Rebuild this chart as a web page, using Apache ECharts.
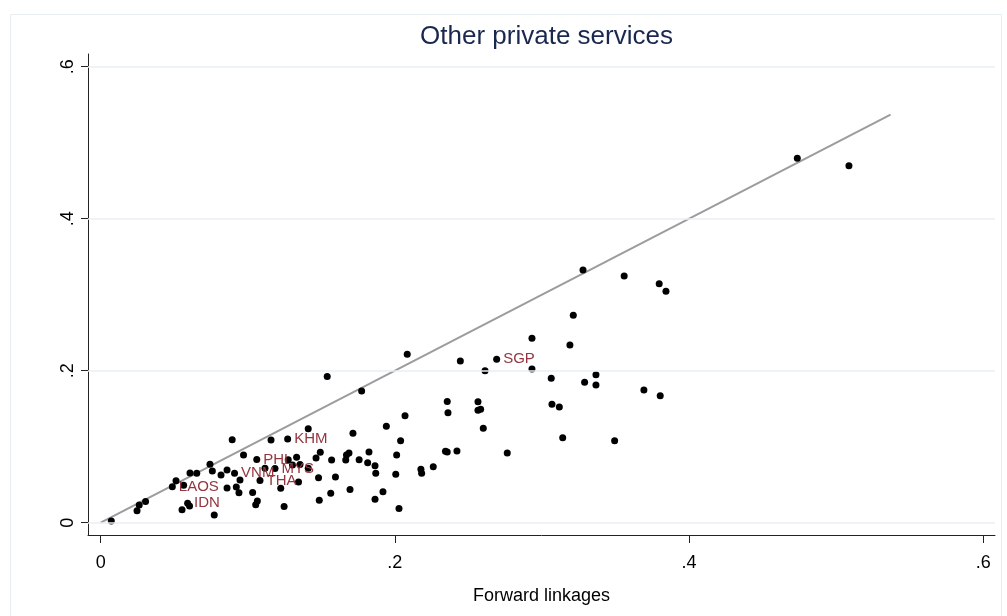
<!DOCTYPE html>
<html>
<head>
<meta charset="utf-8">
<title>Other private services</title>
<script src="https://cdn.jsdelivr.net/npm/echarts@6/dist/echarts.min.js"></script>
<style>
  html, body { margin: 0; padding: 0; background: #ffffff; }
  #chart { width: 1007px; height: 616px; }
</style>
</head>
<body>
<div id="chart"></div>
<script>
// Economies that carry a marker label
const countryCodes = ['LAOS', 'IDN', 'VNM', 'PHL', 'THA', 'MYS', 'KHM', 'SGP'];
const countryX = [0.0487, 0.0591, 0.0910, 0.1061, 0.1083, 0.1185, 0.1271, 0.2692];
const countryY = [0.0474, 0.0255, 0.0650, 0.0832, 0.0555, 0.0713, 0.1101, 0.2150];

// Remaining observations (forward linkages on x)
const otherX = [
  0.0072, 0.0247, 0.0262, 0.0305, 0.0512, 0.0564, 0.0553, 0.0604, 0.0607, 0.0653,
  0.0772, 0.0743, 0.0759, 0.0818, 0.0859, 0.0894, 0.0971, 0.0947, 0.0859, 0.0922,
  0.0940, 0.1033, 0.1065, 0.1054, 0.1117, 0.1158, 0.1224, 0.1247, 0.1275, 0.1304,
  0.1332, 0.1345, 0.1355, 0.1411, 0.1411, 0.1464, 0.1493, 0.1481, 0.1486, 0.1540,
  0.1570, 0.1596, 0.1564, 0.1671, 0.1688, 0.1666, 0.1695, 0.1715, 0.1757, 0.1774,
  0.1815, 0.1824, 0.1865, 0.1870, 0.1865, 0.1919, 0.1942, 0.2012, 0.2006, 0.2028,
  0.2039, 0.2069, 0.2084, 0.2177, 0.2182, 0.2261, 0.2344, 0.2356, 0.2356, 0.2361,
  0.2422, 0.2445, 0.2565, 0.2565, 0.2583, 0.2601, 0.2613, 0.2764, 0.2932, 0.2932,
  0.3063, 0.3068, 0.3118, 0.3141, 0.3190, 0.3213, 0.3279, 0.3290, 0.3367, 0.3367,
  0.3494, 0.3559, 0.3693, 0.3797, 0.3804, 0.3843, 0.4736, 0.5087
];
const otherY = [
  0.0022, 0.0157, 0.0233, 0.0279, 0.0551, 0.0493, 0.0171, 0.0220, 0.0654, 0.0650,
  0.0101, 0.0770, 0.0680, 0.0628, 0.0693, 0.1091, 0.0891, 0.0562, 0.0457, 0.0470,
  0.0395, 0.0397, 0.0286, 0.0236, 0.0716, 0.1088, 0.0453, 0.0213, 0.0829, 0.0759,
  0.0861, 0.0536, 0.0766, 0.0716, 0.1236, 0.0851, 0.0928, 0.0592, 0.0296, 0.1924,
  0.0825, 0.0601, 0.0388, 0.0890, 0.0917, 0.0825, 0.0437, 0.1178, 0.0828, 0.1733,
  0.0789, 0.0930, 0.0750, 0.0650, 0.0309, 0.0408, 0.1268, 0.0891, 0.0637, 0.0187,
  0.1079, 0.1407, 0.2216, 0.0703, 0.0650, 0.0737, 0.0939, 0.0930, 0.1595, 0.1446,
  0.0943, 0.2128, 0.1592, 0.1479, 0.1492, 0.1242, 0.2000, 0.0917, 0.2426, 0.2022,
  0.1900, 0.1558, 0.1522, 0.1118, 0.2338, 0.2729, 0.3325, 0.1847, 0.1947, 0.1812,
  0.1079, 0.3246, 0.1746, 0.3145, 0.1671, 0.3045, 0.4795, 0.4697
];

// 45-degree reference line end points
const diagonalEnds = [0, 0.537];

// Axis ticks and their printed labels
const xTickValues = [0, 0.2, 0.4, 0.6];
const xTickLabels = ['0', '.2', '.4', '.6'];
const yTickValues = [0, 0.2, 0.4, 0.6];
const yTickLabels = ['0', '.2', '.4', '.6'];

const FONT = '"Liberation Sans", Arial, Helvetica, sans-serif';
const LABEL_RED = '#943640';

const scatterData = otherX.map((x, i) => [x, otherY[i]]);
const labelledData = countryCodes.map((code, i) => ({
  name: code,
  value: [countryX[i], countryY[i]],
  label: { show: true }
}));

const chart = echarts.init(document.getElementById('chart'), null, { renderer: 'canvas' });

chart.setOption({
  backgroundColor: '#ffffff',
  animation: false,
  title: {
    text: 'Other private services',
    left: 541.5,
    textAlign: 'center',
    top: 19,
    textStyle: { fontFamily: FONT, fontSize: 26, fontWeight: 'normal', color: '#1a2850' }
  },
  graphic: [{
    type: 'rect',
    silent: true,
    shape: { x: 10.5, y: 14.5, width: 991, height: 620 },
    style: { fill: 'none', stroke: '#e7eef1', lineWidth: 1 }
  }],
  grid: { left: 88, right: 12, top: 54, bottom: 81 },
  xAxis: {
    type: 'value',
    min: -0.00863,
    max: 0.608,
    name: 'Forward linkages',
    nameLocation: 'middle',
    nameGap: 52,
    nameTextStyle: { fontFamily: FONT, fontSize: 18, color: '#000' },
    axisLine: { onZero: false, lineStyle: { color: '#222', width: 1 } },
    axisTick: { show: true, length: 8, customValues: xTickValues, lineStyle: { color: '#222' } },
    axisLabel: {
      customValues: xTickValues,
      margin: 19,
      fontFamily: FONT, fontSize: 18, color: '#000',
      formatter: v => xTickLabels[xTickValues.findIndex(t => Math.abs(t - v) < 1e-9)]
    },
    splitLine: { show: false }
  },
  yAxis: {
    type: 'value',
    min: -0.01618,
    max: 0.6167,
    axisLine: { onZero: false, lineStyle: { color: '#222', width: 1 } },
    axisTick: { show: true, length: 7, customValues: yTickValues, lineStyle: { color: '#222' } },
    axisLabel: {
      customValues: yTickValues,
      rotate: 90,
      margin: 11,
      fontFamily: FONT, fontSize: 18, color: '#000',
      formatter: v => yTickLabels[yTickValues.findIndex(t => Math.abs(t - v) < 1e-9)]
    },
    splitLine: { show: false }
  },
  series: [
    {
      // horizontal grid lines at the labelled y ticks
      type: 'line',
      data: [],
      silent: true,
      z: 1,
      markLine: {
        silent: true,
        symbol: 'none',
        label: { show: false },
        lineStyle: { color: '#e8f0f2', width: 1.6, type: 'solid' },
        data: yTickValues.map(v => ({ yAxis: v }))
      }
    },
    {
      type: 'line',
      data: [[diagonalEnds[0], diagonalEnds[0]], [diagonalEnds[1], diagonalEnds[1]]],
      symbol: 'none',
      silent: true,
      z: 2,
      lineStyle: { color: '#9c9c9c', width: 2 }
    },
    {
      type: 'scatter',
      data: scatterData,
      symbol: 'circle',
      symbolSize: 7,
      z: 3,
      itemStyle: { color: '#000000', opacity: 1 }
    },
    {
      type: 'scatter',
      data: labelledData,
      symbol: 'circle',
      symbolSize: 7,
      z: 3,
      itemStyle: { color: '#000000', opacity: 1 },
      label: {
        position: 'right',
        distance: 3,
        formatter: p => p.name,
        fontFamily: FONT,
        fontSize: 15,
        color: LABEL_RED,
        opacity: 1
      }
    }
  ]
});
</script>
</body>
</html>
